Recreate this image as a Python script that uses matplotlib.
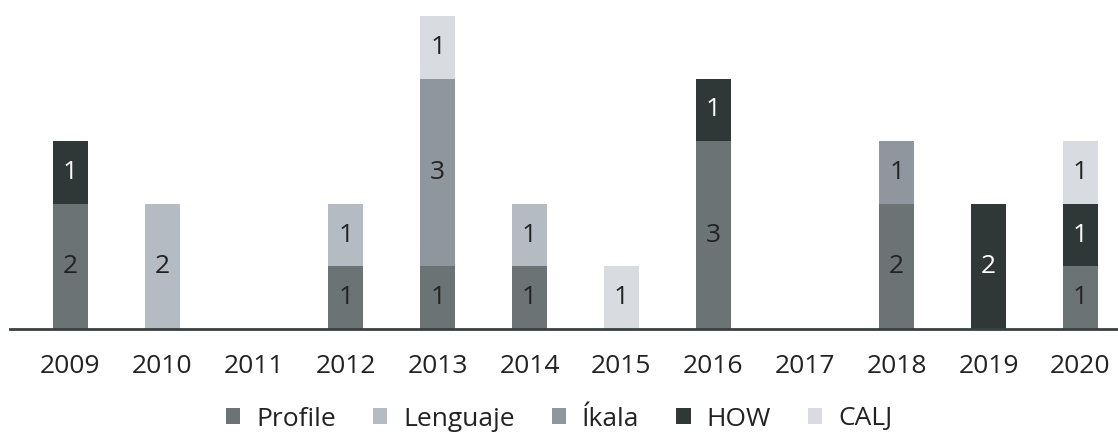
import numpy as np
import matplotlib
matplotlib.use("Agg")
import matplotlib.pyplot as plt

plt.rcParams['font.family'] = ['Open Sans', 'DejaVu Sans']

years = ['2009', '2010', '2011', '2012', '2013', '2014',
         '2015', '2016', '2017', '2018', '2019', '2020']
profile = [2, 0, 0, 1, 1, 1, 0, 3, 0, 2, 0, 1]
lenguaje = [0, 2, 0, 1, 0, 1, 0, 0, 0, 0, 0, 0]
ikala = [0, 0, 0, 0, 3, 0, 0, 0, 0, 1, 0, 0]
how = [1, 0, 0, 0, 0, 0, 0, 1, 0, 0, 2, 1]
calj = [0, 0, 0, 0, 1, 0, 1, 0, 0, 0, 0, 1]

series = [
    ('Profile', profile, '#6c7374', '#222222'),
    ('Lenguaje', lenguaje, '#b5bbc2', '#222222'),
    ('Íkala', ikala, '#8f969d', '#222222'),
    ('HOW', how, '#2f3837', 'white'),
    ('CALJ', calj, '#d8dbdf', '#222222'),
]

fig = plt.figure(figsize=(11.18, 4.34), dpi=100)
ax = fig.add_axes([10 / 1118, 105 / 434, 1108 / 1118, 313 / 434])

x = np.arange(len(years))
bottom = np.zeros(len(years))
for name, vals, color, tcolor in series:
    vals = np.array(vals)
    ax.bar(x, vals, width=0.38, bottom=bottom, color=color, label=name)
    for xi, v, b in zip(x, vals, bottom):
        if v > 0:
            ax.text(xi, b + v / 2, str(v), ha='center', va='center',
                    fontsize=19, color=tcolor)
    bottom += vals

ax.set_xlim(-0.659, 11.41)
ax.set_ylim(0, 5)
for s in ['top', 'right', 'left']:
    ax.spines[s].set_visible(False)
ax.spines['bottom'].set_color('#3a4040')
ax.spines['bottom'].set_linewidth(2)
ax.set_yticks([])
ax.set_xticks(x)
ax.set_xticklabels(years, fontsize=19, color='#222222')
ax.tick_params(axis='x', length=0, pad=18)

fig.legend(loc='center', bbox_to_anchor=(0.5, 1 - 419 / 434), ncol=5,
           frameon=False, fontsize=19, handlelength=0.55, handleheight=0.55,
           handletextpad=0.6, columnspacing=1.4, labelcolor='#222222')

fig.savefig('out.png', dpi=100)
